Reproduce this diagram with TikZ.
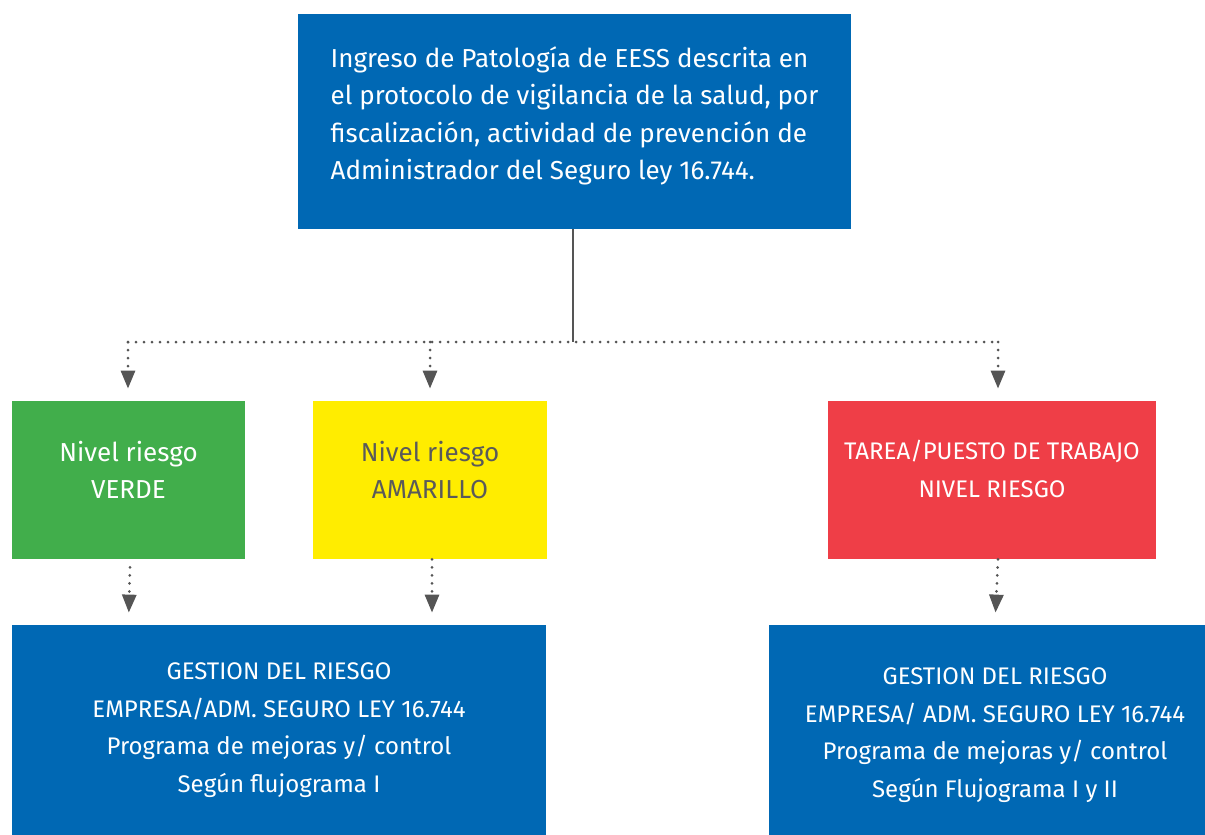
\documentclass[tikz,border=0pt]{standalone}
\usepackage{fontspec}
\setmainfont{Fira Sans}
\usetikzlibrary{calc, positioning, arrows.meta}
\definecolor{govblue}{RGB}{0,104,180}
\definecolor{riskgreen}{RGB}{65,174,75}
\definecolor{riskyellow}{RGB}{255,237,0}
\definecolor{riskred}{RGB}{239,62,71}
\definecolor{linegray}{RGB}{85,85,85}
\definecolor{textgray}{RGB}{90,90,90}

\begin{document}
\begin{tikzpicture}[x=0.5pt, y=-0.5pt, >={Triangle[width=7pt,length=9pt]},
    box/.style={rectangle, inner sep=0pt, align=center, font=\fontsize{12}{18.75}\selectfont},
    bigtext/.style={font=\fontsize{13}{18.75}\selectfont},
    dots/.style={linegray, line width=1.5pt, line cap=round, dash pattern=on 0pt off 4pt},
    feed/.style={dots, ->, shorten >=6pt}]
          \useasboundingbox (0,0) rectangle (1205,835);

          % Top box
          \node[box, bigtext, fill=govblue, text=white, align=left, text depth=8.6pt,
            minimum width=276.5pt, minimum height=107.5pt]
            (ingreso) at (574.5,121.5) {Ingreso de Patología de EESS descrita en\\
            el protocolo de vigilancia de la salud, por\\
            fiscalización, actividad de prevención de\\
            Administrador del Seguro ley 16.744.};

          % Risk level boxes
          \node[box, bigtext, fill=riskgreen, text=white, text depth=10pt,
            minimum width=116.5pt, minimum height=79pt]
            (verde) at (128.5,480) {Nivel riesgo\\VERDE};
          \node[box, bigtext, fill=riskyellow, text=textgray, text depth=10pt,
            minimum width=117pt, minimum height=79pt]
            (amarillo) at (430,480) {Nivel riesgo\\AMARILLO};
          \node[box, fill=riskred, text=white, text depth=11pt,
            minimum width=164pt, minimum height=79pt]
            (rojo) at (992,480) {TAREA/PUESTO DE TRABAJO\\NIVEL RIESGO};

          % Management boxes
          \node[box, fill=govblue, text=white, minimum width=267pt, minimum height=105pt]
            (gestionA) at (279,730) {GESTION DEL RIESGO\\EMPRESA/ADM. SEGURO LEY 16.744\\
            Programa de mejoras y/ control\\Según flujograma I};
          \node[box, fill=govblue, text=white, minimum width=226pt, minimum height=110pt]
            (gestionB) at (995,735) {GESTION DEL RIESGO\\EMPRESA/ ADM. SEGURO LEY 16.744\\
            Programa de mejoras y/ control\\Según Flujograma I y II};

          % Branching
          \coordinate (split) at (573,342);
          \coordinate (splitL) at (128,342);
          \coordinate (splitR) at (998,342);
          \draw[linegray, line width=1pt] (ingreso.south -| split) -- (split);
          \draw[dots] (splitL) -- (splitR);
          \draw[feed] (splitL) -- (splitL |- verde.north);
          \draw[feed] (430,342) -- (amarillo.north);
          \draw[feed] (splitR) -- (splitR |- rojo.north);

          % Down to management
          \draw[feed] ($(verde.south)+(1.5,8)$) -- (verde.south |- gestionA.north);
          \draw[feed] ($(amarillo.south)+(2,0)$) -- ($(amarillo.south |- gestionA.north)+(2,0)$);
          \draw[feed] ($(rojo.south)+(6,0)$) -- ($(rojo.south |- gestionB.north)+(3,0)$);
        \end{tikzpicture}
\end{document}
